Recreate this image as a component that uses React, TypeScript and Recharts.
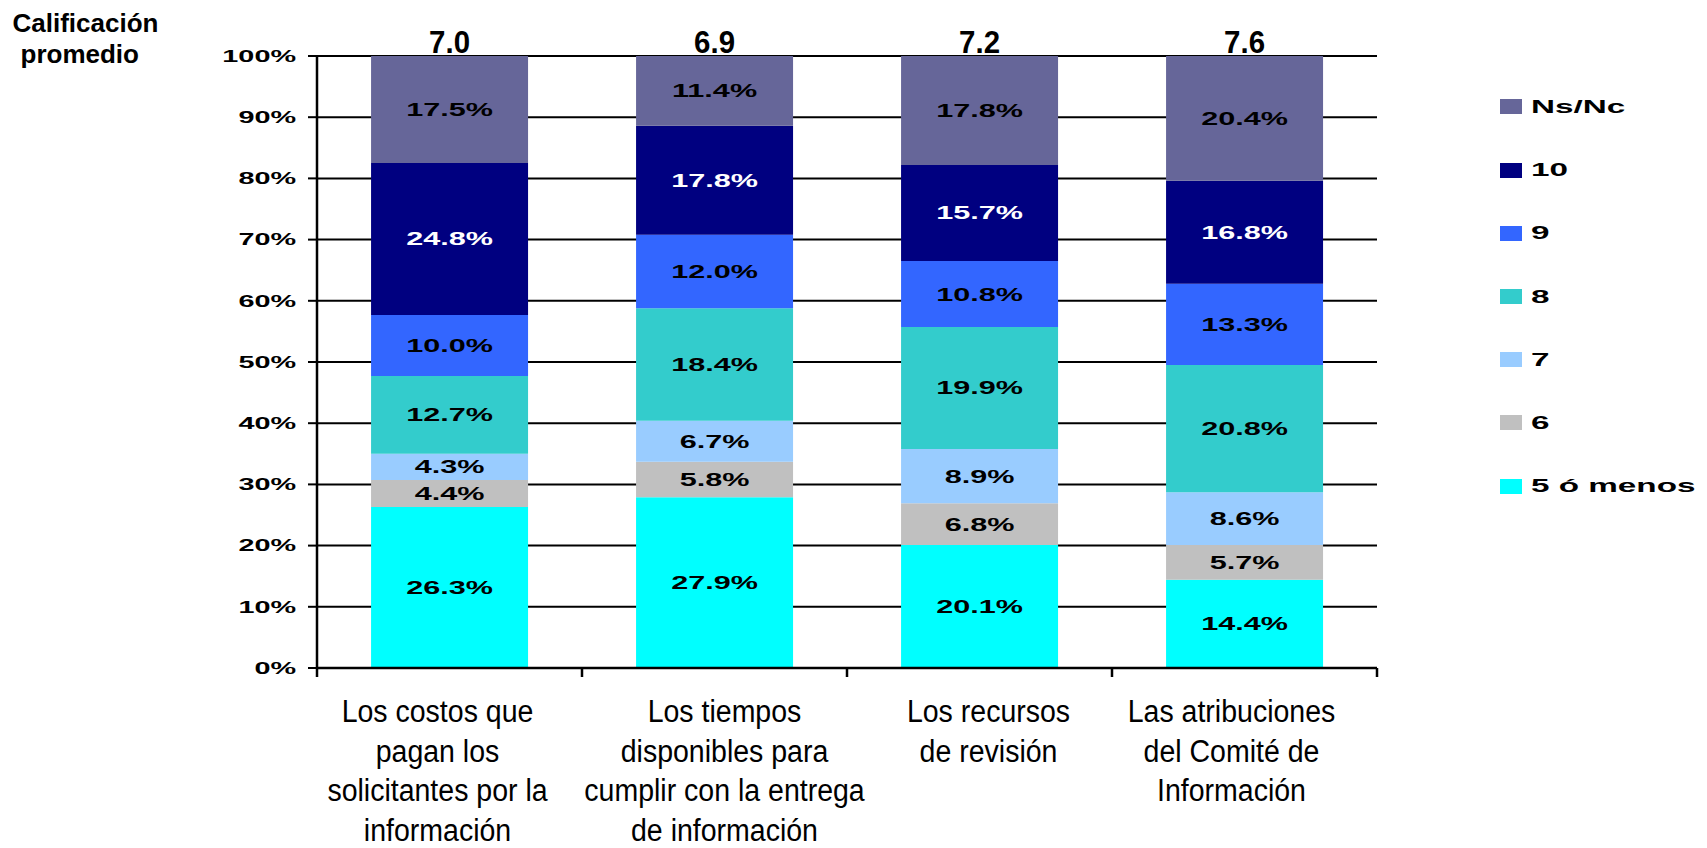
import React from "react";
import { BarChart, Bar, XAxis, YAxis, CartesianGrid, LabelList } from "recharts";

// Categorías (eje X) y calificación promedio sobre cada barra
const CATEGORIES = [
  "Los costos que\npagan los\nsolicitantes por la\ninformación",
  "Los tiempos\ndisponibles para\ncumplir con la entrega\nde información",
  "Los recursos\nde revisión",
  "Las atribuciones\ndel Comité de\nInformación",
];
const AVERAGES = [7.0, 6.9, 7.2, 7.6];

// Series (de abajo hacia arriba)
const SERIES_KEYS = ["menos5", "seis", "siete", "ocho", "nueve", "diez", "nsnc"];
const SERIES_NAMES = ["5 ó menos", "6", "7", "8", "9", "10", "Ns/Nc"];
const SERIES_COLORS = ["#00FFFF", "#C0C0C0", "#99CCFF", "#33CCCC", "#3366FF", "#000080", "#666699"];
const LABEL_COLORS = ["#000", "#000", "#000", "#000", "#000", "#fff", "#000"];

const MENOS5 = [26.3, 27.9, 20.1, 14.4];
const SEIS = [4.4, 5.8, 6.8, 5.7];
const SIETE = [4.3, 6.7, 8.9, 8.6];
const OCHO = [12.7, 18.4, 19.9, 20.8];
const NUEVE = [10.0, 12.0, 10.8, 13.3];
const DIEZ = [24.8, 17.8, 15.7, 16.8];
const NSNC = [17.5, 11.4, 17.8, 20.4];

const Y_TICKS = [0, 10, 20, 30, 40, 50, 60, 70, 80, 90, 100];

const SERIES_VALUES = [MENOS5, SEIS, SIETE, OCHO, NUEVE, DIEZ, NSNC];

const data = CATEGORIES.map((cat, i) => {
  const row: Record<string, any> = { cat, avg: AVERAGES[i] };
  SERIES_KEYS.forEach((k, s) => (row[k] = SERIES_VALUES[s][i]));
  return row;
});

const W = 1691;
const H = 840;
const PLOT_LEFT = 309;
const PLOT_RIGHT = 1369;
const PLOT_TOP = 48;
const PLOT_BOTTOM = 660;
const BAND = (PLOT_RIGHT - PLOT_LEFT) / CATEGORIES.length;
// los textos de categoría del original no quedan centrados exactamente bajo la barra
const LABEL_SHIFT = [-12, 10, 9, -13];

const BOLD = "'Liberation Sans', Arial, sans-serif";

function YTick({ x, y, payload }: any) {
  return (
    <text
      transform={`translate(${x},${y}) scale(1.8,1)`}
      textAnchor="end"
      dy="0.36em"
      fontFamily={BOLD}
      fontWeight="bold"
      fontSize={16}
      fill="#000"
    >
      {payload.value}%
    </text>
  );
}

function XTick({ x, y, payload, index }: any) {
  const half = payload?.offset || BAND / 2;
  const lines = String(payload.value).split("\n");
  const cx = x + (LABEL_SHIFT[index] || 0);
  return (
    <g>
      <line x1={x - half} x2={x - half} y1={y} y2={y + 9} stroke="#000" strokeWidth={2.5} />
      {index === CATEGORIES.length - 1 && (
        <line x1={x + half} x2={x + half} y1={y} y2={y + 9} stroke="#000" strokeWidth={2.5} />
      )}
      {lines.map((ln, i) => (
        <text
          key={i}
          transform={`translate(${cx},${y + 54 + i * 39.5}) scale(0.92,1)`}
          textAnchor="middle"
          fontFamily="'Liberation Sans', Arial, sans-serif"
          fontSize={31}
          fill="#000"
        >
          {ln}
        </text>
      ))}
    </g>
  );
}

function makeSegLabel(color: string) {
  return (p: any) => {
    const { x, y, width, height, value } = p;
    if (value == null) return null;
    return (
      <text
        transform={`translate(${x + width / 2},${y + height / 2}) scale(1.7,1)`}
        textAnchor="middle"
        dy="0.36em"
        fontFamily={BOLD}
        fontWeight="bold"
        fontSize={18}
        fill={color}
      >
        {Number(value).toFixed(1)}%
      </text>
    );
  };
}

function AvgLabel(p: any) {
  const { x, width, value } = p;
  return (
    <text
      transform={`translate(${x + width / 2},${PLOT_TOP - 3}) scale(0.95,1)`}
      textAnchor="middle"
      fontFamily={BOLD}
      fontWeight="bold"
      fontSize={31}
      fill="#000"
    >
      {Number(value).toFixed(1)}
    </text>
  );
}

export default function App() {
  const legendRows = SERIES_NAMES.map((n, i) => ({ name: n, color: SERIES_COLORS[i] })).reverse();
  const titleStyle: React.CSSProperties = {
    position: "absolute",
    fontFamily: BOLD,
    fontWeight: "bold",
    fontSize: 26,
    lineHeight: "28px",
    color: "#000",
    whiteSpace: "nowrap",
  };
  return (
    <div style={{ position: "relative", width: W, height: H, background: "#fff" }}>
      <div style={{ ...titleStyle, left: 4.5, top: 1 }}>Calificación</div>
      <div style={{ ...titleStyle, left: 12.5, top: 32 }}>promedio</div>

      <BarChart
        width={W}
        height={H}
        data={data}
        margin={{ top: PLOT_TOP, right: W - PLOT_RIGHT, bottom: H - PLOT_BOTTOM - 150, left: PLOT_LEFT - 100 }}
        barCategoryGap="20.4%"
      >
        <CartesianGrid horizontal vertical={false} stroke="#000" strokeWidth={2} />
        <XAxis
          dataKey="cat"
          height={150}
          interval={0}
          tickSize={0}
          tickMargin={0}
          tickLine={false}
          axisLine={{ stroke: "#000", strokeWidth: 2.5 }}
          tick={<XTick />}
        />
        <YAxis
          width={100}
          domain={[0, 100]}
          ticks={Y_TICKS}
          interval={0}
          tickSize={9}
          tickMargin={12}
          tickLine={{ stroke: "#000", strokeWidth: 2 }}
          axisLine={{ stroke: "#000", strokeWidth: 2.5 }}
          tick={<YTick />}
          allowDataOverflow
        />
        <YAxis
          yAxisId="right"
          orientation="right"
          width={0}
          domain={[0, 100]}
          tick={false}
          tickLine={false}
          axisLine={{ stroke: "#000", strokeWidth: 2.5 }}
        />
        {SERIES_KEYS.map((k, i) => (
          <Bar
            key={k}
            dataKey={k}
            name={SERIES_NAMES[i]}
            stackId="a"
            fill={SERIES_COLORS[i]}
            isAnimationActive={false}
          >
            <LabelList dataKey={k} content={makeSegLabel(LABEL_COLORS[i])} />
            {k === "nsnc" && <LabelList dataKey="avg" content={AvgLabel} />}
          </Bar>
        ))}
      </BarChart>

      <div style={{ position: "absolute", left: 1492, top: 99 - 31.6 }}>
        {legendRows.map((r) => (
          <div key={r.name} style={{ height: 63.2, display: "flex", alignItems: "center" }}>
            <span style={{ width: 22, height: 15, background: r.color, display: "inline-block" }} />
            <span
              style={{
                marginLeft: 9,
                fontFamily: BOLD,
                fontWeight: "bold",
                fontSize: 19,
                transform: "scaleX(1.75)",
                transformOrigin: "left center",
                whiteSpace: "nowrap",
                display: "inline-block",
                color: "#000",
              }}
            >
              {r.name}
            </span>
          </div>
        ))}
      </div>
    </div>
  );
}
